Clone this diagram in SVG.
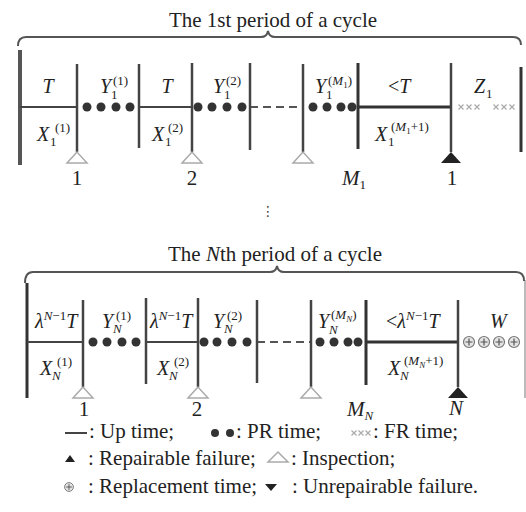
<svg xmlns="http://www.w3.org/2000/svg" width="526" height="512" viewBox="0 0 526 512">
<style>
.t{font-family:"Liberation Serif","Times New Roman",serif;font-size:21px;fill:#222}
.m{font-family:"Liberation Serif","Times New Roman",serif;font-style:italic;font-size:20px;fill:#222}
.s{font-size:13px}
.ss{font-size:9px}
.u{font-style:normal}
.h{stroke:#444;stroke-width:2;fill:none}
.hk{stroke:#333;stroke-width:3;fill:none}
.v{stroke:#444;stroke-width:2.5}
.vk{stroke:#333;stroke-width:3}
.bar{stroke:#555;stroke-width:4}
.dash{stroke:#555;stroke-width:2;stroke-dasharray:8 5}
.brace{stroke:#555;stroke-width:2;fill:none}
.insp{fill:#fff;stroke:#aaa;stroke-width:1.5}
.fail{fill:#222}
.dot{fill:#333}
.cr{stroke:#aaa;stroke-width:1.2}
.cp{fill:#e4e4e4;stroke:#777;stroke-width:1.2}
.cpl{stroke:#555;stroke-width:1.2}
</style>
<defs>
<g id="x"><path class="cr" d="M-2.5,-2.5L2.5,2.5M-2.5,2.5L2.5,-2.5"/></g>
<g id="cplus"><circle class="cp" r="5.5"/><path class="cpl" d="M-3.5,0H3.5M0,-3.5V3.5"/></g>
<polygon id="ti" class="insp" points="0,0 -10,11 10,11"/>
<polygon id="tf" class="fail" points="0,0 -10,11 10,11"/>
</defs>

<g id="period1-title">
<text class="t" x="273" y="27" text-anchor="middle">The 1st period of a cycle</text>
<path class="brace" d="M18,46 Q18,37 26,37 H261 Q267,37 268,31 Q269,37 275,37 H513 Q521,37 521,45"/>
</g>

<g id="connectors">
<line class="bar" x1="20" y1="50" x2="20" y2="165"/>
<line class="h" x1="20" y1="107" x2="77" y2="107"/>
<line class="h" x1="139" y1="107" x2="192" y2="107"/>
<line class="dash" x1="250" y1="107" x2="303" y2="107"/>
<line class="hk" x1="358" y1="107" x2="451" y2="107"/>
<line class="v" x1="77" y1="64" x2="77" y2="152"/>
<line class="v" x1="139" y1="64" x2="139" y2="148"/>
<line class="v" x1="192" y1="63" x2="192" y2="152"/>
<line class="v" x1="250" y1="63" x2="250" y2="150"/>
<line class="v" x1="303" y1="64" x2="303" y2="152"/>
<line class="vk" x1="358" y1="63" x2="358" y2="149"/>
<line class="v" x1="451" y1="63" x2="451" y2="152"/>
<line class="vk" x1="521" y1="67" x2="521" y2="152"/>
<line class="vk" x1="27" y1="283" x2="27" y2="398"/>
<line class="h" x1="27" y1="342" x2="83" y2="342"/>
<line class="h" x1="146" y1="342" x2="198" y2="342"/>
<line class="dash" x1="257" y1="342" x2="311" y2="342"/>
<line class="hk" x1="366" y1="342" x2="458" y2="342"/>
<line class="v" x1="83" y1="300" x2="83" y2="387"/>
<line class="v" x1="146" y1="298" x2="146" y2="384"/>
<line class="v" x1="198" y1="298" x2="198" y2="387"/>
<line class="v" x1="257" y1="300" x2="257" y2="383"/>
<line class="v" x1="311" y1="300" x2="311" y2="387"/>
<line class="vk" x1="366" y1="300" x2="366" y2="385"/>
<line class="v" x1="458" y1="300" x2="458" y2="387"/>
<line stroke="#bbb" stroke-width="2" x1="525" y1="280" x2="525" y2="398"/>
</g>

<g id="pr-dots">
<circle class="dot" cx="87" cy="107" r="4.5"/><circle class="dot" cx="101" cy="107" r="4.5"/><circle class="dot" cx="116" cy="107" r="4.5"/><circle class="dot" cx="130" cy="107" r="4.5"/>
<circle class="dot" cx="198" cy="107" r="4.5"/><circle class="dot" cx="212" cy="107" r="4.5"/><circle class="dot" cx="227" cy="107" r="4.5"/><circle class="dot" cx="242" cy="107" r="4.5"/>
<circle class="dot" cx="313" cy="107" r="4.5"/><circle class="dot" cx="327" cy="107" r="4.5"/><circle class="dot" cx="341" cy="107" r="4.5"/><circle class="dot" cx="352" cy="107" r="4.5"/>
<circle class="dot" cx="93" cy="342" r="4.5"/><circle class="dot" cx="107" cy="342" r="4.5"/><circle class="dot" cx="122" cy="342" r="4.5"/><circle class="dot" cx="136" cy="342" r="4.5"/>
<circle class="dot" cx="204" cy="342" r="4.5"/><circle class="dot" cx="217" cy="342" r="4.5"/><circle class="dot" cx="232" cy="342" r="4.5"/><circle class="dot" cx="247" cy="342" r="4.5"/>
<circle class="dot" cx="320" cy="342" r="4.5"/><circle class="dot" cx="334" cy="342" r="4.5"/><circle class="dot" cx="348" cy="342" r="4.5"/><circle class="dot" cx="358" cy="342" r="4.5"/>
</g>

<g id="fr-crosses">
<use href="#x" x="461" y="107"/><use href="#x" x="469" y="107"/><use href="#x" x="477" y="107"/>
<use href="#x" x="496" y="107"/><use href="#x" x="504" y="107"/><use href="#x" x="512" y="107"/>
</g>

<g id="replacement">
<use href="#cplus" x="469" y="342"/><use href="#cplus" x="484" y="342"/><use href="#cplus" x="499" y="342"/><use href="#cplus" x="514" y="342"/>
</g>

<g id="events">
<use href="#ti" x="77" y="152"/><use href="#ti" x="192" y="152"/><use href="#ti" x="303" y="152"/><use href="#tf" x="451" y="152"/>
<use href="#ti" x="83" y="387"/><use href="#ti" x="198" y="387"/><use href="#ti" x="311" y="387"/><use href="#tf" x="458" y="387"/>
</g>

<g id="labels1">
<text class="m" x="48" y="93" text-anchor="middle">T</text>
<text class="m" x="100" y="93">Y<tspan class="s u" x="111" y="99">1</tspan><tspan class="s u" x="113" y="85">(1)</tspan></text>
<text class="m" x="37" y="141">X<tspan class="s u" x="50" y="146">1</tspan><tspan class="s u" x="55" y="132">(1)</tspan></text>
<text class="m" x="167" y="93" text-anchor="middle">T</text>
<text class="m" x="152" y="141">X<tspan class="s u" x="165" y="146">1</tspan><tspan class="s u" x="168" y="132">(2)</tspan></text>
<text class="m" x="213" y="93">Y<tspan class="s u" x="224" y="99">1</tspan><tspan class="s u" x="226" y="85">(2)</tspan></text>
<text class="m" x="315" y="93">Y<tspan class="s u" x="326" y="99">1</tspan><tspan class="s u" x="328" y="85">(</tspan><tspan class="s">M</tspan><tspan class="ss u" y="88">1</tspan><tspan class="s u" y="85">)</tspan></text>
<text class="m" x="388" y="93"><tspan class="u">&lt;</tspan>T</text>
<text class="m" x="375" y="141">X<tspan class="s u" x="388" y="146">1</tspan><tspan class="s u" x="391" y="131">(</tspan><tspan class="s">M</tspan><tspan class="ss u" y="134">1</tspan><tspan class="s u" y="131">+1)</tspan></text>
<text class="m" x="474" y="93">Z<tspan class="s u" x="486" y="98">1</tspan></text>
<text class="t" x="77" y="185" text-anchor="middle">1</text>
<text class="t" x="192" y="185" text-anchor="middle">2</text>
<text class="m" x="342" y="185" style="font-size:21px">M<tspan class="s u" y="189">1</tspan></text>
<text class="t" x="452" y="185" text-anchor="middle">1</text>
<text x="268" y="216" text-anchor="middle" style="font-family:'DejaVu Sans',sans-serif;font-size:14px;fill:#444">⋮</text>
</g>

<g id="periodN-title">
<text class="t" x="275" y="261" text-anchor="middle">The <tspan style="font-style:italic">N</tspan>th period of a cycle</text>
<path class="brace" d="M25,283 Q25,272 33,272 H270 Q276,272 277,266 Q278,272 284,272 H516 Q524,272 524,281"/>
</g>

<g id="labelsN">
<text class="m" x="35" y="328">λ<tspan class="s" y="320">N</tspan><tspan class="s u">−1</tspan><tspan y="328">T</tspan></text>
<text class="m" x="102" y="328">Y<tspan class="s" x="113" y="333">N</tspan><tspan class="s u" x="116" y="320">(1)</tspan></text>
<text class="m" x="150" y="328">λ<tspan class="s" y="320">N</tspan><tspan class="s u">−1</tspan><tspan y="328">T</tspan></text>
<text class="m" x="213" y="328">Y<tspan class="s" x="224" y="333">N</tspan><tspan class="s u" x="227" y="320">(2)</tspan></text>
<text class="m" x="318" y="328">Y<tspan class="s" x="329" y="334">N</tspan><tspan class="s u" x="331" y="319">(</tspan><tspan class="s">M</tspan><tspan class="ss" y="322">N</tspan><tspan class="s u" y="319">)</tspan></text>
<text class="m" x="386" y="328"><tspan class="u">&lt;</tspan>λ<tspan class="s" y="320">N</tspan><tspan class="s u">−1</tspan><tspan y="328">T</tspan></text>
<text class="m" x="490" y="328">W</text>
<text class="m" x="40" y="375">X<tspan class="s" x="52" y="380">N</tspan><tspan class="s u" x="57" y="366">(1)</tspan></text>
<text class="m" x="157" y="375">X<tspan class="s" x="169" y="380">N</tspan><tspan class="s u" x="174" y="366">(2)</tspan></text>
<text class="m" x="388" y="375">X<tspan class="s" x="400" y="380">N</tspan><tspan class="s u" x="404" y="365">(</tspan><tspan class="s">M</tspan><tspan class="ss" y="368">N</tspan><tspan class="s u" y="365">+1)</tspan></text>
<text class="t" x="84" y="416" text-anchor="middle">1</text>
<text class="t" x="197" y="416" text-anchor="middle">2</text>
<text class="m" x="347" y="416" style="font-size:21px">M<tspan class="s" y="420">N</tspan></text>
<text class="m" x="456" y="415" text-anchor="middle" style="font-size:21px">N</text>
</g>

<g id="legend">
<line class="h" x1="65" y1="433" x2="87" y2="433"/>
<text class="t" x="89" y="438">: Up time;</text>
<circle class="dot" cx="215" cy="433" r="4"/><circle class="dot" cx="230" cy="433" r="4"/>
<text class="t" x="236" y="438">: PR time;</text>
<use href="#x" x="354" y="433"/><use href="#x" x="361" y="433"/><use href="#x" x="368" y="433"/>
<text class="t" x="373" y="438">: FR time;</text>
<polygon class="fail" points="65,462 70,455 75,462"/>
<text class="t" x="88" y="465">: Repairable failure;</text>
<polygon class="insp" points="268,462 278,452 288,462"/>
<text class="t" x="291" y="465">: Inspection;</text>
<g transform="translate(69,487) scale(0.8)"><use href="#cplus"/></g>
<text class="t" x="88" y="493">: Replacement time;</text>
<polygon class="fail" points="265,484 277,484 271,491"/>
<text class="t" x="292" y="493">: Unrepairable failure.</text>
</g>
</svg>
